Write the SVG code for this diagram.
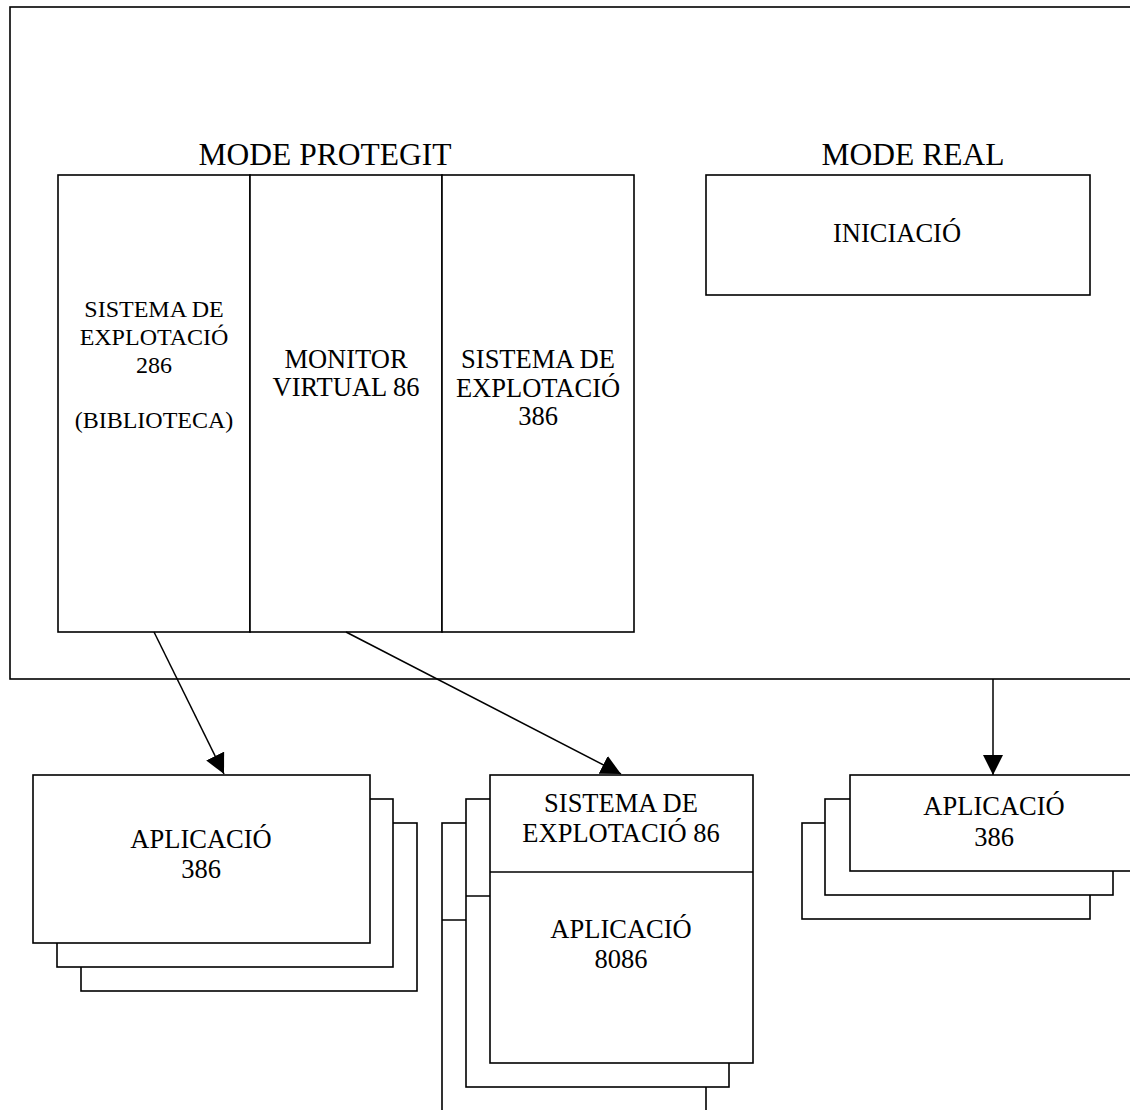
<svg xmlns="http://www.w3.org/2000/svg" width="1130" height="1110" viewBox="0 0 1130 1110">
<style>
.b{fill:#fff;stroke:#000;stroke-width:1.6}
.o{fill:none;stroke:#000;stroke-width:1.6}
.l{fill:none;stroke:#000;stroke-width:1.5}
text{font-family:"Liberation Serif","Times New Roman",serif;fill:#000;text-anchor:middle}
.t{font-size:31.5px}
.s{font-size:24px}
.m{font-size:26.5px}
</style>
<defs>
<marker id="ah" markerUnits="userSpaceOnUse" markerWidth="22" markerHeight="22" refX="20" refY="10" orient="auto" viewBox="0 0 22 22">
<path d="M0,0 L20,10 L0,20 z" fill="#000"/>
</marker>
</defs>
<g id="outer">
<rect class="o" x="10" y="7" width="1135" height="672"/>
<text class="t" x="325" y="165">MODE PROTEGIT</text>
<text class="t" x="913" y="165">MODE REAL</text>
</g>
<g id="so286">
<rect class="b" x="58" y="175" width="192" height="457"/>
<text class="s" x="154" y="317">SISTEMA DE</text>
<text class="s" x="154" y="345">EXPLOTACIÓ</text>
<text class="s" x="154" y="373">286</text>
<text class="s" x="154" y="428">(BIBLIOTECA)</text>
</g>
<g id="monitor">
<rect class="b" x="250" y="175" width="192" height="457"/>
<text class="m" x="346" y="368">MONITOR</text>
<text class="m" x="346" y="396">VIRTUAL 86</text>
</g>
<g id="so386">
<rect class="b" x="442" y="175" width="192" height="457"/>
<text class="m" x="538" y="368">SISTEMA DE</text>
<text class="m" x="538" y="397">EXPLOTACIÓ</text>
<text class="m" x="538" y="425">386</text>
</g>
<g id="iniciacio">
<rect class="b" x="706" y="175" width="384" height="120"/>
<text class="m" x="897" y="242">INICIACIÓ</text>
</g>
<g id="connectors">
<line class="l" x1="154" y1="632" x2="224" y2="774" marker-end="url(#ah)"/>
<line class="l" x1="346" y1="632" x2="621" y2="774" marker-end="url(#ah)"/>
<line class="l" x1="993" y1="679" x2="993" y2="775" marker-end="url(#ah)"/>
</g>
<g id="app386-left">
<rect class="b" x="81" y="823" width="336" height="168"/>
<rect class="b" x="57" y="799" width="336" height="168"/>
<rect class="b" x="33" y="775" width="337" height="168"/>
<text class="m" x="201" y="848">APLICACIÓ</text>
<text class="m" x="201" y="878">386</text>
</g>
<g id="app8086">
<rect class="b" x="442" y="823" width="264" height="288"/>
<line class="o" x1="442" y1="920" x2="706" y2="920"/>
<rect class="b" x="466" y="799" width="263" height="288"/>
<line class="o" x1="466" y1="896" x2="729" y2="896"/>
<rect class="b" x="490" y="775" width="263" height="288"/>
<line class="o" x1="490" y1="872" x2="753" y2="872"/>
<text class="m" x="621" y="812">SISTEMA DE</text>
<text class="m" x="621" y="842">EXPLOTACIÓ 86</text>
<text class="m" x="621" y="938">APLICACIÓ</text>
<text class="m" x="621" y="968">8086</text>
</g>
<g id="app386-right">
<rect class="b" x="802" y="823" width="288" height="96"/>
<rect class="b" x="825" y="799" width="288" height="96"/>
<rect class="b" x="850" y="775" width="290" height="96"/>
<text class="m" x="994" y="815">APLICACIÓ</text>
<text class="m" x="994" y="846">386</text>
</g>
</svg>
